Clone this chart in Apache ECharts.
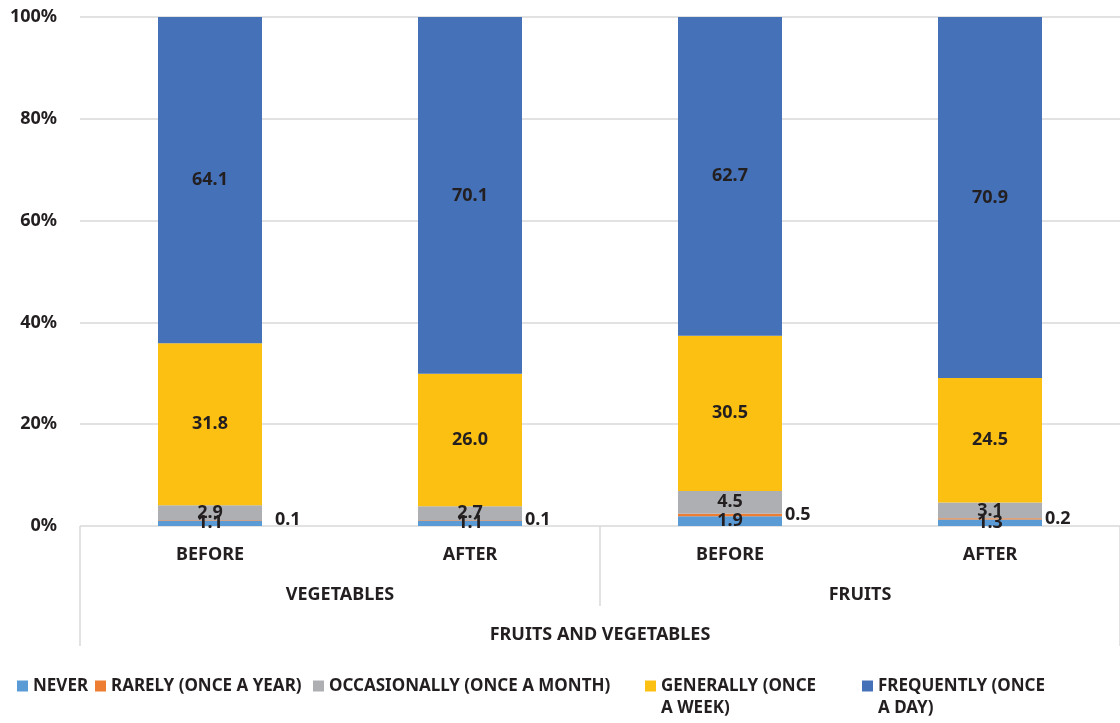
<!DOCTYPE html>
<html>
<head>
<meta charset="utf-8">
<script src="https://cdn.jsdelivr.net/npm/echarts@6/dist/echarts.min.js"></script>
<style>
  html, body { margin: 0; padding: 0; background: #fff; }
  #chart { width: 1120px; height: 723px; }
</style>
</head>
<body>
<div id="chart"></div>
<script>
// bars, left to right
const periods = ['BEFORE', 'AFTER', 'BEFORE', 'AFTER']
const groups = ['VEGETABLES', 'FRUITS']
const topGroup = ['FRUITS AND VEGETABLES']

const seriesNames = ['NEVER', 'RARELY (ONCE A YEAR)', 'OCCASIONALLY (ONCE A MONTH)', 'GENERALLY (ONCE A WEEK)', 'FREQUENTLY (ONCE A DAY)']
const never = [1.1, 1.1, 1.9, 1.3]
const rarely = [0.1, 0.1, 0.5, 0.2]
const occasionally = [2.9, 2.7, 4.5, 3.1]
const generally = [31.8, 26.0, 30.5, 24.5]
const frequently = [64.1, 70.1, 62.7, 70.9]

const yTicks = [0, 20, 40, 60, 80, 100]

const colors = ['#5B9BD5', '#ED7D31', '#AEAFB2', '#FCC012', '#4571B8']
const textColor = '#231F20'
const font = 'Noto Sans'
const values = [never, rarely, occasionally, generally, frequently]

// legend labels as drawn; wrapped ones get an empty first line so the icon sits on line one
const legendText = {
  'GENERALLY (ONCE A WEEK)': '\nGENERALLY (ONCE\nA WEEK)',
  'FREQUENTLY (ONCE A DAY)': '\nFREQUENTLY (ONCE\nA DAY)'
}
const legendLeft = [17, 95, 313, 645, 862]

const chart = echarts.init(document.getElementById('chart'))

const labelStyle = {
  color: textColor,
  fontFamily: font,
  fontWeight: 'bold',
  fontSize: 18
}

const series = seriesNames.map((name, i) => ({
  name: name,
  type: 'bar',
  stack: 'total',
  barWidth: '40%',
  itemStyle: { color: colors[i] },
  label: Object.assign({
    show: true,
    position: i === 1 ? 'right' : 'inside',
    distance: 3,
    formatter: p => p.value.toFixed(1)
  }, labelStyle),
  // the first "rarely" label sits further out in the original
  data: values[i].map((v, j) => (i === 1 && j === 0) ? { value: v, label: { distance: 13 } } : v)
}))

const option = {
  animation: false,
  grid: { left: 80, right: -6, top: 17, bottom: 197 },
  legend: seriesNames.map((name, i) => ({
    data: [name],
    left: legendLeft[i],
    top: legendText[name] ? 653 : 675,
    padding: 0,
    itemWidth: 11,
    itemHeight: 11,
    itemGap: 0,
    icon: 'rect',
    selectedMode: false,
    formatter: n => legendText[n] || n,
    textStyle: Object.assign({}, labelStyle, { fontSize: 17, lineHeight: 22 })
  })),
  xAxis: [
    {
      type: 'category',
      data: periods,
      axisLine: { show: false },
      axisTick: { show: false },
      axisLabel: Object.assign({ margin: 20 }, labelStyle)
    },
    {
      type: 'category',
      data: groups,
      position: 'bottom',
      axisLine: { show: false },
      axisTick: { show: true, length: 80, lineStyle: { color: '#D9D9D9', width: 1.5 } },
      axisLabel: Object.assign({ margin: 60 }, labelStyle)
    },
    {
      type: 'category',
      data: topGroup,
      position: 'bottom',
      axisLine: { show: false },
      axisTick: { show: true, length: 120, lineStyle: { color: '#D9D9D9', width: 1.5 } },
      axisLabel: Object.assign({ margin: 100 }, labelStyle)
    }
  ],
  yAxis: {
    type: 'value',
    min: yTicks[0],
    max: yTicks[yTicks.length - 1],
    interval: yTicks[1] - yTicks[0],
    axisLine: { show: false },
    axisTick: { show: false },
    splitLine: { lineStyle: { color: '#D9D9D9', width: 1.5 } },
    axisLabel: Object.assign({ margin: 23, formatter: '{value}%' }, labelStyle)
  },
  series: series
}

chart.setOption(option)
</script>
</body>
</html>
